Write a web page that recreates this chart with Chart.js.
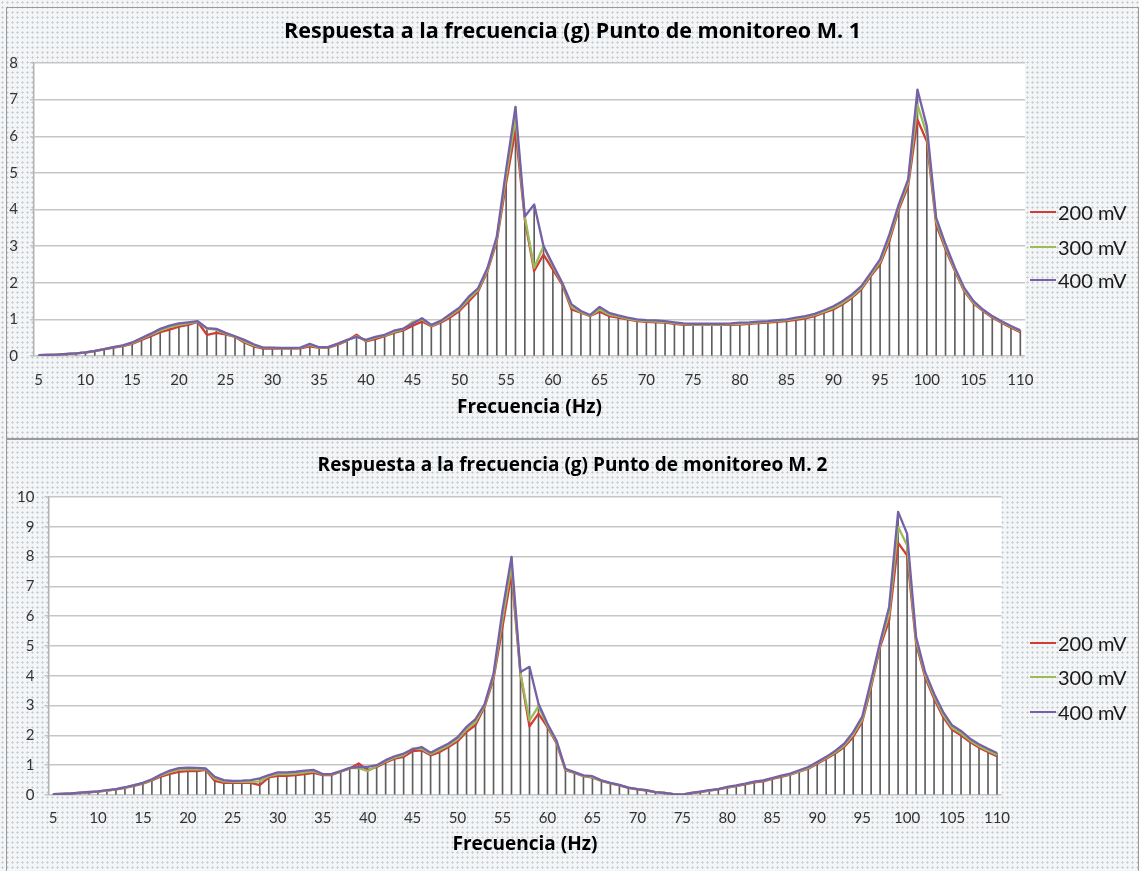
<!DOCTYPE html>
<html><head><meta charset="utf-8">
<script src="https://cdn.jsdelivr.net/npm/chart.js@4.4.1/dist/chart.umd.min.js"></script>
<style>
html,body{margin:0;padding:0;}
body{width:1139px;height:871px;overflow:hidden;position:relative;background-color:#f3f5f7;
 background-image:radial-gradient(circle,#c3c9ce 0.9px,transparent 1.2px);background-size:5px 5px;font-family:Lato,sans-serif;}
.panel{position:absolute;left:6px;width:1133px;border:1px solid #9a9a9a;box-sizing:border-box;}
#p1{top:7px;height:432px;}
#p2{top:439px;height:440px;}
canvas{position:absolute;left:7px;}
#c1{top:8px;}
#c2{top:440px;}
.item{position:absolute;left:1030px;height:24px;line-height:24px;font-size:20px;color:#1a1a1a;white-space:nowrap;font-family:Lato,sans-serif;}
.sw{position:absolute;left:0;top:11px;width:26px;height:2px;}
.tx{position:absolute;left:28px;top:0;}
</style></head>
<body>
<div class="panel" id="p1"></div>
<div class="panel" id="p2"></div>
<canvas id="c1" width="1131" height="430"></canvas>
<canvas id="c2" width="1131" height="431"></canvas>
<div id="leg1"></div>
<div id="leg2"></div>
<script>
// ---- data ----
const freqHz = [];
for (let f = 5; f <= 110; f++) freqHz.push(f);

const seriesNames = ['200 mV', '300 mV', '400 mV'];
const seriesColors = ['#cf3d36', '#9bbb59', '#7661a8'];
const title1 = 'Respuesta a la frecuencia (g) Punto de monitoreo M. 1';
const title2 = 'Respuesta a la frecuencia (g) Punto de monitoreo M. 2';
const xTitle = 'Frecuencia (Hz)';

const m1_200 = [0.02,0.03,0.04,0.05,0.07,0.09,0.13,0.18,0.23,0.27,0.33,0.44,0.54,0.65,0.72,0.80,0.85,0.93,0.58,0.63,
0.59,0.52,0.37,0.26,0.20,0.21,0.20,0.20,0.21,0.26,0.22,0.23,0.31,0.42,0.58,0.40,0.46,0.54,0.63,0.70,
0.83,0.94,0.81,0.91,1.05,1.23,1.49,1.76,2.31,3.13,4.72,6.18,3.72,2.32,2.77,2.36,1.95,1.27,1.18,1.09,
1.21,1.09,1.05,1.00,0.95,0.93,0.92,0.91,0.88,0.85,0.85,0.85,0.85,0.85,0.85,0.86,0.88,0.90,0.91,0.93,
0.95,0.99,1.03,1.09,1.18,1.27,1.41,1.59,1.82,2.18,2.50,3.14,4.00,4.64,6.45,5.86,3.59,2.91,2.32,1.77,
1.43,1.23,1.05,0.91,0.77,0.65];
const m1_300 = [0.02,0.03,0.04,0.06,0.07,0.10,0.14,0.19,0.24,0.28,0.35,0.47,0.58,0.70,0.79,0.85,0.89,0.94,0.74,0.72,
0.61,0.53,0.40,0.29,0.22,0.22,0.21,0.21,0.22,0.30,0.23,0.24,0.33,0.43,0.54,0.42,0.50,0.56,0.66,0.73,
0.93,1.00,0.83,0.94,1.10,1.28,1.56,1.81,2.35,3.20,4.90,6.50,3.80,2.41,3.00,2.45,1.98,1.34,1.20,1.10,
1.27,1.13,1.08,1.02,0.97,0.95,0.94,0.93,0.90,0.87,0.86,0.86,0.86,0.86,0.87,0.88,0.90,0.92,0.93,0.96,
0.98,1.02,1.06,1.12,1.21,1.31,1.45,1.63,1.86,2.22,2.57,3.23,4.07,4.73,6.86,6.05,3.68,2.98,2.36,1.81,
1.46,1.25,1.07,0.93,0.80,0.68];
const m1_400 = [0.02,0.03,0.04,0.06,0.07,0.10,0.14,0.19,0.24,0.29,0.37,0.49,0.61,0.74,0.83,0.89,0.92,0.95,0.76,0.74,
0.63,0.54,0.44,0.32,0.23,0.23,0.22,0.22,0.23,0.33,0.24,0.25,0.34,0.44,0.52,0.44,0.52,0.58,0.69,0.75,
0.89,1.03,0.85,0.96,1.14,1.32,1.62,1.85,2.40,3.26,5.09,6.80,3.81,4.14,3.00,2.50,2.00,1.41,1.23,1.12,
1.34,1.18,1.11,1.05,1.00,0.98,0.97,0.95,0.92,0.89,0.88,0.88,0.88,0.88,0.89,0.91,0.92,0.94,0.95,0.98,
1.00,1.05,1.09,1.15,1.25,1.36,1.50,1.68,1.91,2.27,2.64,3.32,4.14,4.82,7.27,6.27,3.77,3.05,2.41,1.86,
1.50,1.27,1.09,0.95,0.82,0.70];

const m2_200 = [0.03,0.04,0.05,0.07,0.09,0.11,0.15,0.19,0.24,0.31,0.38,0.49,0.62,0.71,0.78,0.80,0.80,0.84,0.47,0.41,
0.41,0.42,0.41,0.33,0.59,0.64,0.64,0.67,0.70,0.74,0.67,0.67,0.78,0.89,1.06,0.83,0.94,1.09,1.22,1.28,
1.47,1.50,1.33,1.44,1.61,1.80,2.12,2.35,2.95,3.90,5.64,7.43,4.05,2.30,2.73,2.28,1.74,0.83,0.74,0.63,
0.58,0.47,0.39,0.32,0.24,0.19,0.15,0.10,0.07,0.03,0.01,0.06,0.10,0.15,0.19,0.25,0.30,0.36,0.42,0.46,
0.54,0.61,0.68,0.78,0.88,1.05,1.22,1.39,1.61,1.95,2.45,3.62,4.97,5.86,8.46,8.04,5.08,3.96,3.23,2.62,
2.19,2.00,1.78,1.59,1.44,1.30];
const m2_300 = [0.03,0.04,0.05,0.07,0.09,0.12,0.15,0.19,0.25,0.32,0.40,0.51,0.66,0.77,0.85,0.87,0.86,0.87,0.55,0.46,
0.44,0.45,0.44,0.46,0.63,0.70,0.70,0.72,0.76,0.79,0.69,0.69,0.79,0.90,0.91,0.80,0.97,1.13,1.26,1.34,
1.56,1.55,1.38,1.51,1.67,1.87,2.20,2.45,3.00,3.98,5.92,7.70,4.07,2.50,2.98,2.33,1.78,0.85,0.75,0.64,
0.60,0.48,0.40,0.33,0.25,0.20,0.16,0.10,0.07,0.03,0.01,0.07,0.11,0.15,0.20,0.26,0.31,0.37,0.44,0.48,
0.56,0.63,0.70,0.80,0.91,1.08,1.25,1.43,1.66,2.03,2.53,3.73,5.05,6.08,8.99,8.38,5.19,4.05,3.31,2.70,
2.26,2.07,1.83,1.64,1.49,1.35];
const m2_400 = [0.03,0.04,0.05,0.08,0.10,0.12,0.16,0.20,0.26,0.33,0.41,0.53,0.69,0.82,0.90,0.92,0.91,0.89,0.61,0.50,
0.47,0.48,0.50,0.56,0.67,0.76,0.76,0.78,0.82,0.84,0.70,0.71,0.80,0.91,0.94,0.94,1.00,1.17,1.30,1.39,
1.53,1.61,1.42,1.58,1.73,1.94,2.29,2.55,3.04,4.07,6.20,7.99,4.13,4.30,3.06,2.39,1.83,0.88,0.77,0.66,
0.63,0.49,0.41,0.34,0.25,0.20,0.16,0.10,0.07,0.03,0.01,0.07,0.11,0.16,0.20,0.27,0.32,0.38,0.45,0.49,
0.57,0.65,0.72,0.83,0.94,1.11,1.28,1.48,1.72,2.11,2.62,3.85,5.13,6.31,9.50,8.77,5.30,4.13,3.40,2.79,
2.34,2.15,1.89,1.70,1.55,1.41];

// ---- drawing ----
const plotBg = {
  id: 'plotBg',
  beforeDraw(chart) {
    const {ctx, chartArea: a} = chart;
    ctx.save();
    ctx.fillStyle = '#ffffff';
    ctx.fillRect(a.left, a.top, a.right - a.left, a.bottom - a.top);
    ctx.restore();
  }
};

function build(canvasId, series, L) {
  const dropTop = freqHz.map((_, i) => Math.max(series[0][i], series[1][i], series[2][i]));
  const datasets = [{
    type: 'bar', label: 'drop', data: dropTop, backgroundColor: '#5e5e5e',
    barThickness: 1, borderWidth: 0, order: 10
  }];
  series.forEach((s, k) => datasets.push({
    type: 'line', label: seriesNames[k], data: s, borderColor: seriesColors[k],
    backgroundColor: seriesColors[k], borderWidth: 2.3, pointRadius: 0, tension: 0,
    borderJoinStyle: 'round', order: 3 - k
  }));
  return new Chart(document.getElementById(canvasId), {
    type: 'line',
    data: { labels: freqHz, datasets },
    plugins: [plotBg],
    options: {
      responsive: false, animation: false, devicePixelRatio: 1,
      layout: { padding: 0 },
      plugins: {
        legend: { display: false }, tooltip: { enabled: false },
        title: { display: true, text: L.title, color: '#000',
          font: { family: "'Open Sans'", size: L.titleSize, weight: 'bold' },
          padding: { top: L.titleTop, bottom: L.titleBottom } }
      },
      scales: {
        x: {
          type: 'category', offset: true,
          grid: { display: false, drawTicks: false }, border: { display: false },
          ticks: { autoSkip: false, maxRotation: 0, minRotation: 0, padding: L.xTickPad, color: '#333',
            font: { family: 'Lato', size: 15 },
            callback: (v, i) => (freqHz[i] % 5 === 0 ? String(freqHz[i]) : '') },
          title: { display: true, text: xTitle, color: '#000',
            font: { family: "'Open Sans'", size: 19, weight: 'bold' }, padding: L.xTitlePad },
          afterFit: s => { s.height = L.xHeight; }
        },
        y: {
          min: 0, max: L.yMax,
          ticks: { stepSize: 1, padding: L.yTickPad, color: '#333', font: { family: 'Lato', size: 15 } },
          grid: { color: '#c6c6c6', lineWidth: 1.5, tickLength: 4 },
          border: { display: true, color: '#b4b4b4', width: 1.5 },
          afterFit: s => { s.width = L.yWidth; }
        },
        legendSpace: {
          type: 'linear', position: 'right', display: true,
          ticks: { display: false }, grid: { display: false, drawTicks: false }, border: { display: false },
          afterFit: s => { s.width = L.padRight; }
        }
      }
    }
  });
}

build('c1', [m1_200, m1_300, m1_400], {
  title: title1, titleSize: 21.5, titleTop: 11, titleBottom: 18.2, padRight: 113, yMax: 8,
  xHeight: 82, xTickPad: 15.5, xTitlePad: 18.6, yTickPad: 12, yWidth: 27
});
build('c2', [m2_200, m2_300, m2_400], {
  title: title2, titleSize: 19, titleTop: 14.6, titleBottom: 19.6, padRight: 136.5, yMax: 10,
  xHeight: 76, xTickPad: 14.5, xTitlePad: 14.6, yTickPad: 10, yWidth: 41.5
});

function legend(id, centers) {
  const host = document.getElementById(id);
  seriesNames.forEach((n, k) => {
    const d = document.createElement('div');
    d.className = 'item';
    d.style.top = (centers[k] - 12) + 'px';
    d.innerHTML = '<span class="sw" style="background:' + seriesColors[k] + '"></span><span class="tx">' + n + '</span>';
    host.appendChild(d);
  });
}
legend('leg1', [212, 247, 280]);
legend('leg2', [643, 677, 712]);
</script>
</body></html>
